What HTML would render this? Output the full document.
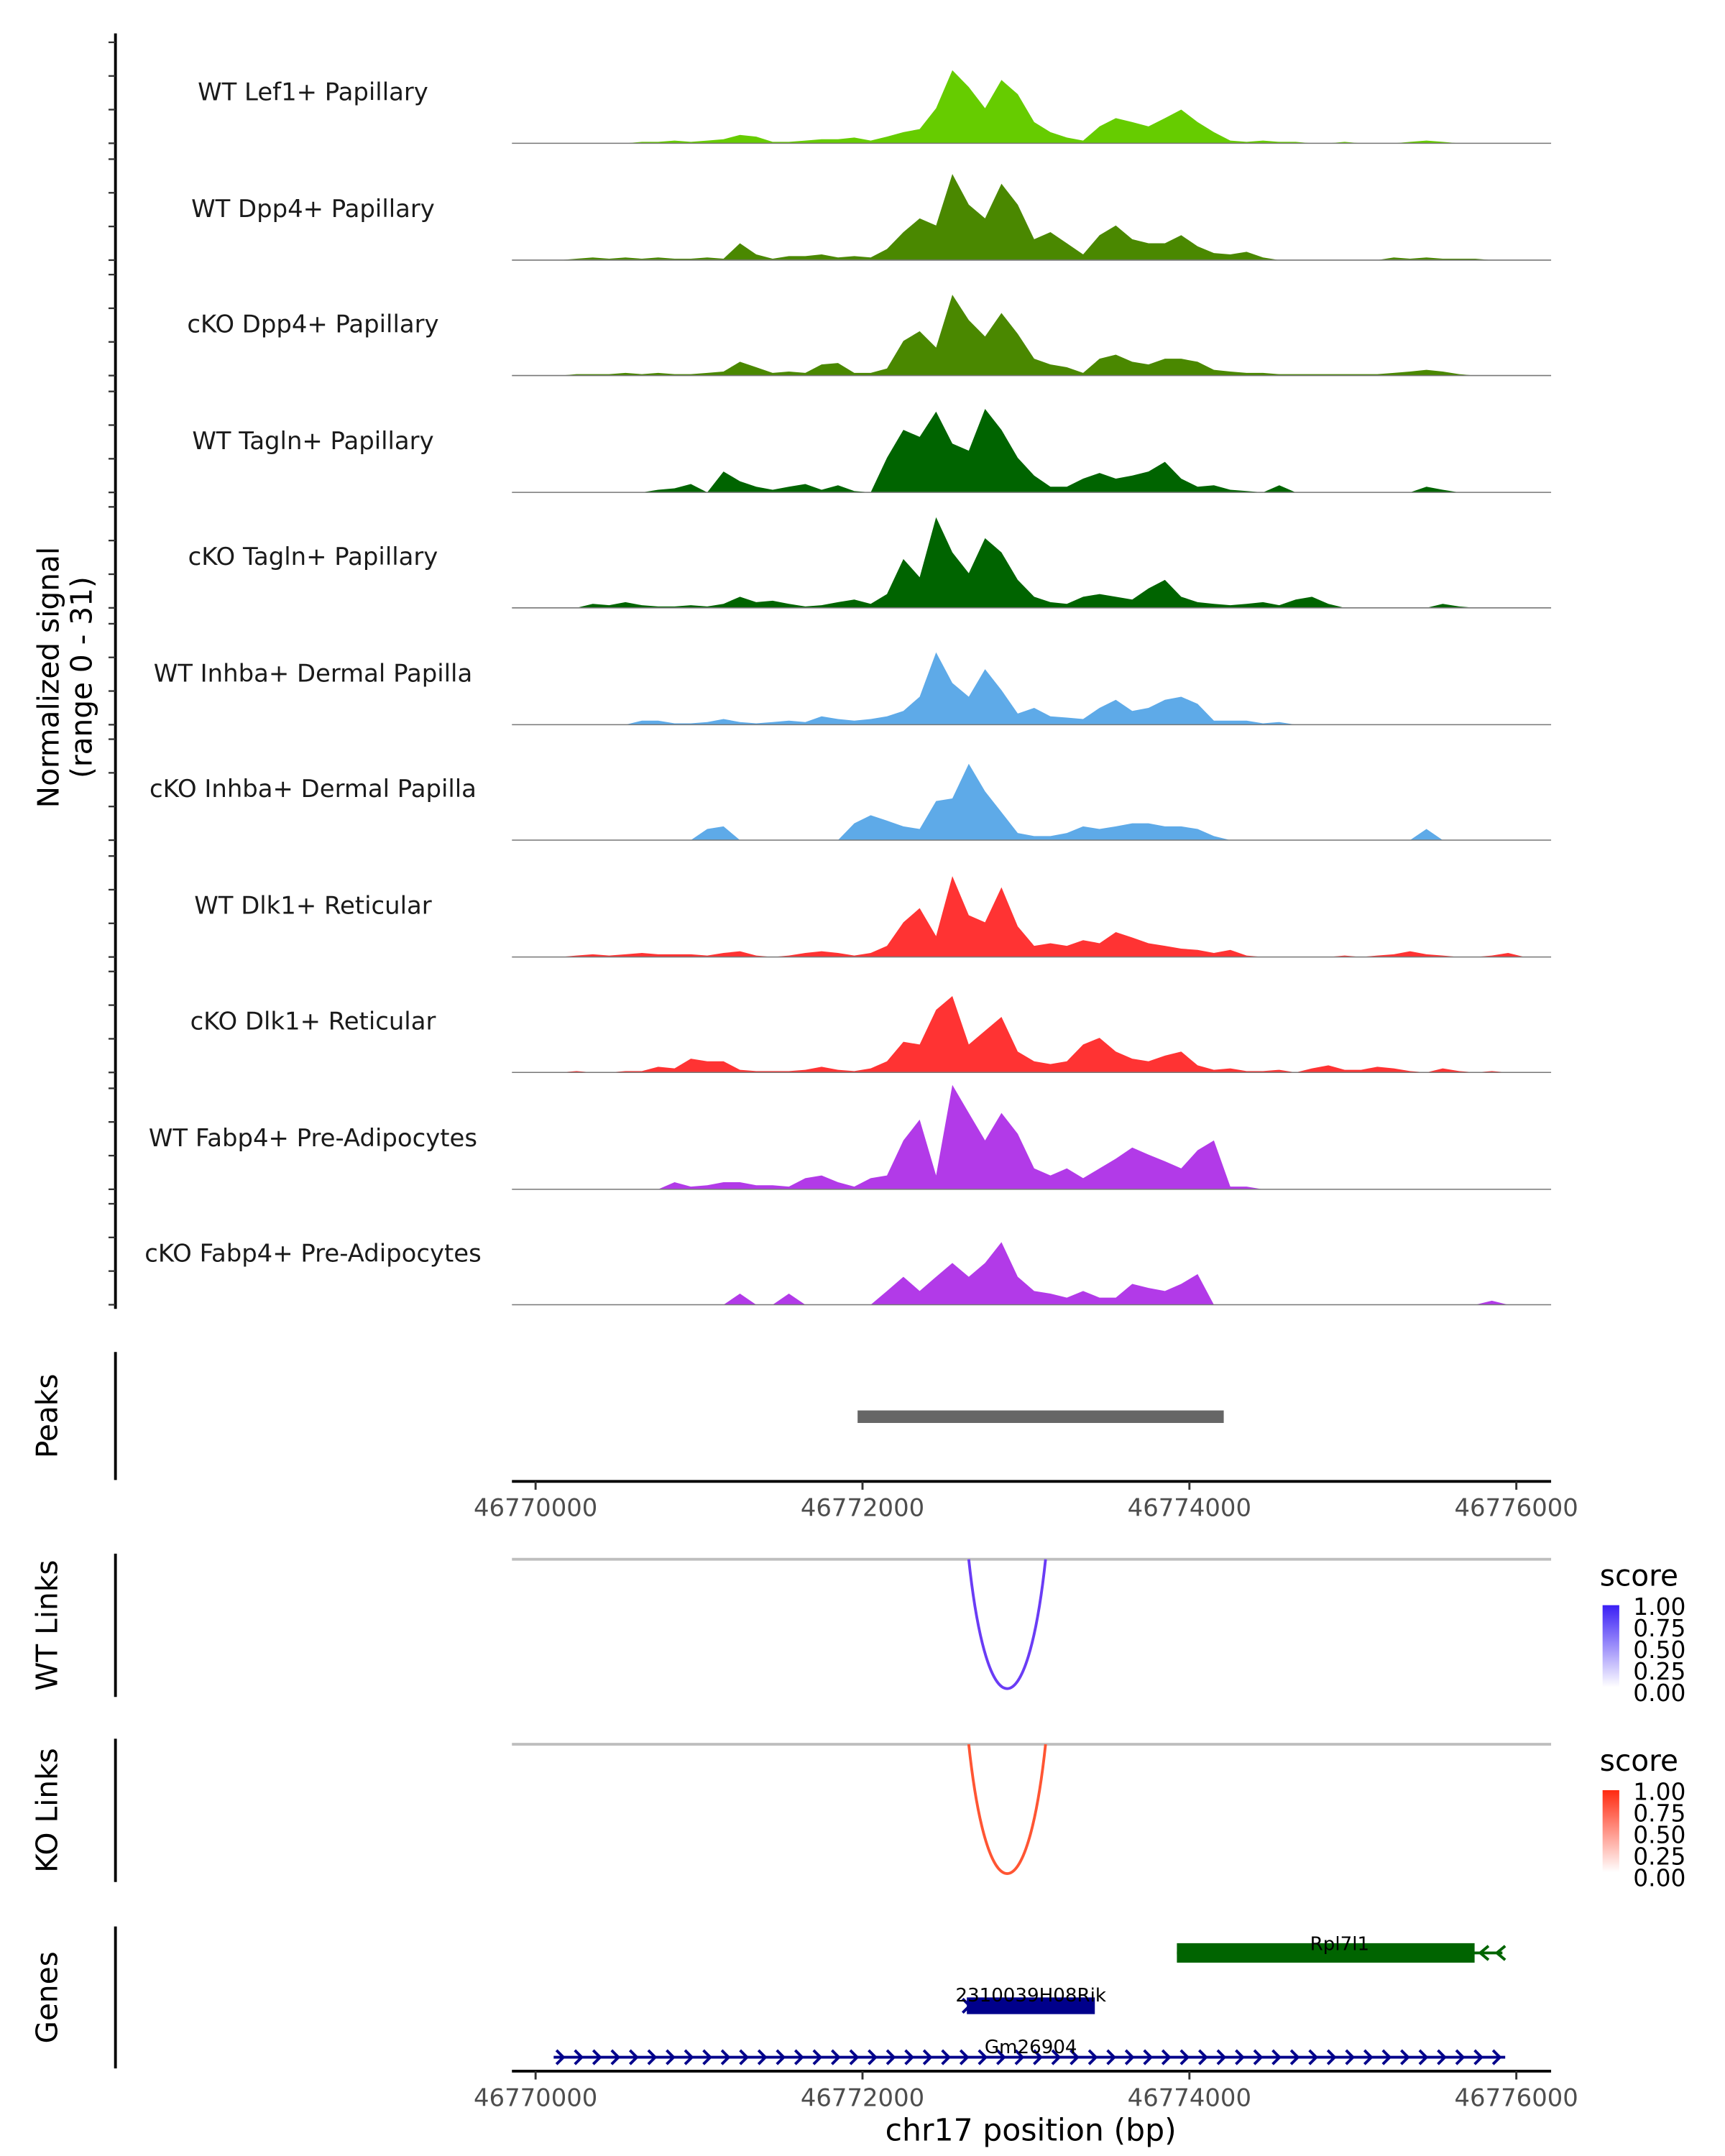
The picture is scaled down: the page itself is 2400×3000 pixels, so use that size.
<!DOCTYPE html>
<html><head><meta charset="utf-8"><style>
html,body{margin:0;padding:0;background:#fff}
svg{display:block}
text{font-family:"DejaVu Sans","Liberation Sans",sans-serif}
</style></head><body>
<svg id="chart" width="2400" height="3000" viewBox="0 0 1240 1550" xmlns="http://www.w3.org/2000/svg">
<g id="root"></g>
</svg>
<script>
const trackNames = ["WT Lef1+ Papillary","WT Dpp4+ Papillary","cKO Dpp4+ Papillary","WT Tagln+ Papillary","cKO Tagln+ Papillary","WT Inhba+ Dermal Papilla","cKO Inhba+ Dermal Papilla","WT Dlk1+ Reticular","cKO Dlk1+ Reticular","WT Fabp4+ Pre-Adipocytes","cKO Fabp4+ Pre-Adipocytes"];
const trackColors = ["#66cc00","#4a8800","#4a8800","#006400","#006400","#5eaae8","#5eaae8","#ff3333","#ff3333","#b23ae8","#b23ae8"];
const binStart = 46769900;
const binSize = 100;
const sigLef1 = [0,0,0,0,0,0,0,.4,.4,.8,.4,.8,1.2,2.5,2,.4,.4,.8,1.2,1.2,1.7,.8,2,3.3,4.2,10.4,21.7,16.7,10.4,18.8,14.6,6.3,3.3,1.7,.8,5,7.5,6.3,5,7.5,10,6.3,3.3,.8,.4,.8,.4,.4,0,0,.4,0,0,0,.4,.8,.4,0,0,0,0,0,0,0];
const sigWtDpp4 = [0,0,0,.4,.8,.4,.8,.4,.8,.4,.4,.8,.4,5,1.7,.4,1.2,1.2,1.7,.8,1.2,.8,3.3,8.3,12.4,10.3,25.6,16.5,12.4,22.7,16.5,6.2,8.3,5,1.7,7.4,10.3,6.2,5,5,7.4,4.1,2.1,1.7,2.5,.8,0,0,0,0,0,0,0,.8,.4,.8,.4,.4,.4,0,0,0,0,0];
const sigKoDpp4 = [0,0,0,.4,.4,.4,.8,.4,.8,.4,.4,.8,1.2,4.1,2.5,.8,1.2,.8,3.3,3.7,.8,.8,2.1,10.3,13.2,8.3,24,16.5,11.6,18.6,12.4,5,3.3,2.5,.8,5,6.2,4.1,3.3,5,5,4.1,1.7,1.2,.8,.8,.4,.4,.4,.4,.4,.4,.4,.8,1.2,1.7,1.2,.4,0,0,0,0,0,0];
const sigWtTagln = [0,0,0,0,0,0,0,0,.8,1.2,2.5,0,6.2,3.3,1.7,.8,1.7,2.5,.8,2.1,.4,0,10.3,18.6,16.5,24,14.5,12.4,24.8,18.6,10.3,5,1.7,1.7,4.1,5.8,4.1,5,6.2,9.1,4.1,1.7,2.1,.8,.4,0,2.1,0,0,0,0,0,0,0,0,1.7,.8,0,0,0,0,0,0,0];
const sigKoTagln = [0,0,0,0,1.2,.8,1.7,.8,.4,.4,.8,.4,1.2,3.3,1.7,2.1,1.2,.4,.8,1.7,2.5,1.2,4.1,14.5,9.1,26.9,16.5,10.3,20.7,16.5,8.3,3.3,1.7,1.2,3.3,4.1,3.3,2.5,5.8,8.3,3.3,1.7,1.2,.8,1.2,1.7,.8,2.5,3.3,1.2,0,0,0,0,0,0,1.2,.4,0,0,0,0,0,0];
const sigWtInhba = [0,0,0,0,0,0,0,1.2,1.2,.4,.4,.8,1.7,.8,.4,.8,1.2,.8,2.5,1.7,1.2,1.7,2.5,4.1,8.3,21.5,12.4,8.3,16.5,10.3,3.3,5,2.5,2.1,1.7,5,7.4,4.1,5,7.4,8.3,6.2,1.2,1.2,1.2,.4,.8,0,0,0,0,0,0,0,0,0,0,0,0,0,0,0,0,0];
const sigKoInhba = [0,0,0,0,0,0,0,0,0,0,0,3.3,4.1,0,0,0,0,0,0,0,5,7.4,5.8,4.1,3.3,11.6,12.4,22.7,14.5,8.3,2.1,1.2,1.2,2.1,4.1,3.3,4.1,5,5,4.1,4.1,3.3,1.2,0,0,0,0,0,0,0,0,0,0,0,0,3.3,0,0,0,0,0,0,0,0];
const sigWtDlk1 = [0,0,0,.4,.8,.4,.8,1.2,.8,.8,.8,.4,1.2,1.7,.4,0,.4,1.2,1.7,1.2,.4,1.2,3.3,10.3,14.5,6.2,24,12.4,10.3,20.7,9.1,3.3,4.1,3.3,5,4.1,7.4,5.8,4.1,3.3,2.5,2.1,1.2,2.1,.4,0,0,0,0,0,.4,0,.4,.8,1.7,.8,.4,0,0,.4,1.2,0,0,0];
const sigKoDlk1 = [0,0,0,.4,0,0,.4,.4,1.7,1.2,4.1,3.3,3.3,.8,.4,.4,.4,.8,1.7,.8,.4,1.2,3.3,9.1,8.3,18.6,22.7,8.3,12.4,16.5,6.2,3.3,2.5,3.3,8.3,10.3,6.2,4.1,3.3,5,6.2,2.1,.8,1.2,.4,.4,.8,0,1.2,2.1,.8,.8,1.7,1.2,.4,0,1.2,.4,0,.4,0,0,0,0];
const sigWtFabp4 = [0,0,0,0,0,0,0,0,0,2.1,.8,1.2,2.1,2.1,1.2,1.2,.8,3.3,4.1,2.1,.8,3.3,4.1,14.5,20.7,4.1,31,22.7,14.5,22.7,16.5,6.2,4.1,6.2,3.3,6.2,9.1,12.4,10.3,8.3,6.2,11.6,14.5,.8,.8,0,0,0,0,0,0,0,0,0,0,0,0,0,0,0,0,0,0,0];
const sigKoFabp4 = [0,0,0,0,0,0,0,0,0,0,0,0,0,3.3,0,0,3.3,0,0,0,0,0,4.1,8.3,4.1,8.3,12.4,8.3,12.4,18.6,8.3,4.1,3.3,2.1,4.1,2.1,2.1,6.2,5,4.1,6.2,9.1,0,0,0,0,0,0,0,0,0,0,0,0,0,0,0,0,0,1.2,0,0,0,0];
const signals = [sigLef1,sigWtDpp4,sigKoDpp4,sigWtTagln,sigKoTagln,sigWtInhba,sigKoInhba,sigWtDlk1,sigKoDlk1,sigWtFabp4,sigKoFabp4];
const xTicks = [46770000,46772000,46774000,46776000];
const peakStarts = [46771970];
const peakEnds = [46774210];
const linkStarts = [46772650];
const linkEnds = [46773120];
const linkScores = [0.8];
const legendTicks = ["1.00","0.75","0.50","0.25","0.00"];

const NS = "http://www.w3.org/2000/svg";
const root = document.getElementById("root");
function el(tag, attrs, parent){const e=document.createElementNS(NS,tag);for(const k in attrs)e.setAttribute(k,attrs[k]);(parent||root).appendChild(e);return e;}
const X0=368, X1=1115;
function xs(bp){return 385+(bp-46770000)*0.1175;}
const yMax=31, trackH=75;
function ys(base,v){return base - v/yMax*trackH;}
const baselines=[103,187,270,354,437,521,604,688,771,855,938];

const ax=el("line",{x1:83,y1:24,x2:83,y2:941,stroke:"#000","stroke-width":2});


baselines.forEach((b)=>{
  for(let t=0;t<=30;t+=10){
    const tk=el("line",{x1:78,x2:83,y1:ys(b,t),y2:ys(b,t),stroke:"#333","stroke-width":1.2});
    
    
  }
});
const yt=el("text",{x:0,y:0,"font-size":21,"text-anchor":"middle",fill:"#000",transform:"translate(42,487) rotate(-90)"});


yt.innerHTML='<tspan x="0" dy="0">Normalized signal</tspan><tspan x="0" dy="24">(range 0 - 31)</tspan>';

signals.forEach((arr,ti)=>{
  const b=baselines[ti];
  const g=el("g",{});
  
  
  let d="M"+X0+","+b;
  arr.forEach((v,i)=>{const bp=binStart+binSize*i+binSize/2;d+=" L"+xs(bp).toFixed(1)+","+ys(b,v).toFixed(1);});
  d+=" L"+X1+","+b+" Z";
  const p=el("path",{d:d,fill:trackColors[ti],stroke:"none"},g);
  
  
  const bl=el("line",{x1:X0,x2:X1,y1:b,y2:b,stroke:"#777","stroke-width":0.8},g);
  
  
  const lb=el("text",{x:225,y:b-31,"font-size":17.5,"text-anchor":"middle",fill:"#1a1a1a"},g);
  
  
  lb.textContent=trackNames[ti];
});

function sideAxis(y1,y2,label,name){
  const l=el("line",{x1:83,x2:83,y1:y1,y2:y2,stroke:"#000","stroke-width":2});
  
  
  const t=el("text",{x:0,y:0,"font-size":21,"text-anchor":"middle",fill:"#000",transform:"translate(41,"+((y1+y2)/2)+") rotate(-90)"});
  
  
  t.textContent=label;
}
sideAxis(972,1064,"Peaks","peaks");
peakStarts.forEach((s,i)=>{
  const r=el("rect",{x:xs(s),y:1014,width:xs(peakEnds[i])-xs(s),height:9,fill:"#666"});
  
  
});
function xAxis(y,name){
  const l=el("line",{x1:X0,x2:X1,y1:y,y2:y,stroke:"#000","stroke-width":2});
  
  
  xTicks.forEach(t=>{
    const tk=el("line",{x1:xs(t),x2:xs(t),y1:y,y2:y+6,stroke:"#333","stroke-width":1.5});
    
    
    const tl=el("text",{x:xs(t),y:y+25,"font-size":17.5,"text-anchor":"middle",fill:"#4d4d4d"});
    
    
    tl.textContent=t;
  });
}
xAxis(1065,'peaks-x-axis');

function linkPanel(top,label,name,color,gradId,c1){
  sideAxis(top-4,top+99,label,name);
  const gl=el("line",{x1:X0,x2:X1,y1:top,y2:top,stroke:"#bebebe","stroke-width":2});
  
  
  linkStarts.forEach((s,i)=>{
    const a=xs(s),b=xs(linkEnds[i]);
    const depth=124*linkScores[i]/0.8;
    const p=el("path",{d:`M${a},${top} C${a+(b-a)*0.24},${top+depth} ${a+(b-a)*0.76},${top+depth} ${b},${top}`,fill:"none",stroke:color,"stroke-width":2});
    
    
  });
  const defs=el("defs",{});
  const lg=el("linearGradient",{id:gradId,x1:0,y1:1,x2:0,y2:0},defs);
  el("stop",{offset:"0",["stop-color"]:"#ffffff"},lg);
  el("stop",{offset:"1",["stop-color"]:c1},lg);
  const lt=el("text",{x:1150,y:top+19,"font-size":21,fill:"#000"});
  
  
  lt.textContent="score";
  const cb=el("rect",{x:1152,y:top+33,width:12,height:59,fill:"url(#"+gradId+")"});
  
  
  legendTicks.forEach((t,i)=>{
    const tx=el("text",{x:1174,y:top+40+i*15.5,"font-size":17,fill:"#000"});
    
    
    tx.textContent=t;
  });
}
linkPanel(1121,"WT Links","wt-links","#6a3cf5","gWT","#3a1ff5");
linkPanel(1254,"KO Links","ko-links","#ff5533","gKO","#ff2a10");

sideAxis(1385,1487,"Genes","genes");
(function(){
  const g=el("g",{});
  
  
  el("line",{x1:846,x2:1080,y1:1404,y2:1404,stroke:"#006400","stroke-width":2},g);
  el("rect",{x:846,y:1397,width:214,height:14,fill:"#006400"},g);
  el("path",{d:"M1070,1399 L1064,1404 L1070,1409 M1082,1399 L1076,1404 L1082,1409",fill:"none",stroke:"#006400","stroke-width":2},g);
  const t=el("text",{x:963,y:1402,"font-size":13.5,"text-anchor":"middle",fill:"#000"},g);
  t.textContent="Rpl7l1";
  const g2=el("g",{});
  
  
  el("rect",{x:695,y:1436,width:92,height:12,fill:"#00008b"},g2);
  el("path",{d:"M692,1437 L697,1442 L692,1447",fill:"none",stroke:"#00008b","stroke-width":2},g2);
  const t2=el("text",{x:741,y:1439,"font-size":13.5,"text-anchor":"middle",fill:"#000"},g2);
  t2.textContent="2310039H08Rik";
  const g3=el("g",{});
  
  
  el("line",{x1:398,x2:1082,y1:1479,y2:1479,stroke:"#00008b","stroke-width":2},g3);
  let d="";
  for(let x=402;x<=1082;x+=13.2){d+=`M${x-2},${1474} L${x+3},${1479} L${x-2},${1484} `;}
  el("path",{d:d,fill:"none",stroke:"#00008b","stroke-width":2},g3);
  const t3=el("text",{x:741,y:1476,"font-size":13.5,"text-anchor":"middle",fill:"#000"},g3);
  t3.textContent="Gm26904";
})();
xAxis(1489,'genes-x-axis');
const xt=el("text",{x:741,y:1539,"font-size":22,"text-anchor":"middle",fill:"#000"});


xt.textContent="chr17 position (bp)";
</script>
</body></html>
